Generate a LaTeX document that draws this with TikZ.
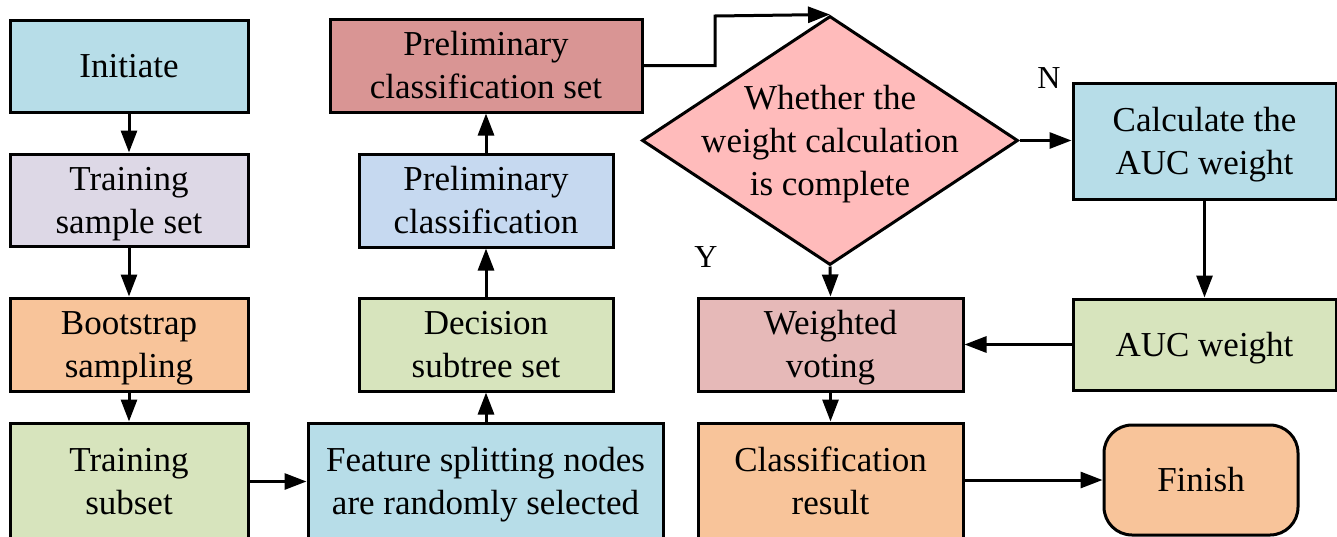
\documentclass[tikz,border=0pt]{standalone}
\usepackage{fontspec}
\newfontfamily\boxfont{Liberation Serif}
\usetikzlibrary{arrows.meta,shapes.geometric}
\definecolor{cblue}{HTML}{B7DDE8}
\definecolor{clav}{HTML}{DDD8E6}
\definecolor{corange}{HTML}{F8C49A}
\definecolor{cgreen}{HTML}{D7E4BD}
\definecolor{crose}{HTML}{D99594}
\definecolor{csky}{HTML}{C6D9F0}
\definecolor{cpink}{HTML}{FFBBBB}
\definecolor{cmauve}{HTML}{E6B9B8}
% centred stack of lines, set a little below the geometric centre
\newcommand\boxlines[1]{\raisebox{-3pt}[\height][\depth]{\begin{tabular}{@{}c@{}}#1\end{tabular}}}
\tikzset{
  box/.style={draw=black, line width=3pt, rectangle, inner sep=0pt,
    font=\boxfont\fontsize{35}{43}\selectfont},
  decision/.style={draw=black, line width=3pt, diamond, inner sep=0pt, fill=cpink,
    minimum width=376pt, minimum height=249pt},
  txt/.style={inner sep=0pt, font=\boxfont\fontsize{35}{43}\selectfont},
  yn/.style={inner sep=0pt, font=\boxfont\fontsize{32}{38}\selectfont},
  arr/.style={line width=3pt, -{Triangle[length=22pt,width=16pt]}},
}
\begin{document}
\begin{tikzpicture}[x=1pt,y=-1pt]
\useasboundingbox (0,0) rectangle (1337,536);

% left column
\node[box, fill=cblue,   minimum width=238pt, minimum height=92pt]  (init) at (129,66)    {\boxlines{Initiate}};
\node[box, fill=clav,    minimum width=238pt, minimum height=92pt]  (tss)  at (129,200)   {\boxlines{Training\\sample set}};
\node[box, fill=corange, minimum width=238pt, minimum height=93pt]  (boot) at (129,344.5) {\boxlines{Bootstrap\\sampling}};
\node[box, fill=cgreen,  minimum width=238pt, minimum height=117pt] (tsub) at (129,481.5) {\boxlines{Training\\subset}};

% middle column
\node[box, fill=cblue,   minimum width=355pt, minimum height=117pt] (feat) at (485.5,481.5) {\boxlines{Feature splitting nodes\\are randomly selected}};
\node[box, fill=cgreen,  minimum width=254pt, minimum height=93pt]  (dst)  at (486,344.5)   {\boxlines{Decision\\subtree set}};
\node[box, fill=csky,    minimum width=254pt, minimum height=93pt]  (pc)   at (486,200.5)   {\boxlines{Preliminary\\classification}};
\node[box, fill=crose,   minimum width=312pt, minimum height=93pt]  (pcs)  at (486,65.5)    {\boxlines{Preliminary\\classification set}};

% decision and right part
\node[decision] (dec) at (830,140.5) {};
\node[txt] (dect) at (dec.center) {\boxlines{Whether the\\weight calculation\\is complete}};
\node[box, fill=cblue,   minimum width=263pt, minimum height=116pt] (calc) at (1204.5,141)   {\boxlines{Calculate the\\AUC weight}};
\node[box, fill=cgreen,  minimum width=263pt, minimum height=91pt]  (auc)  at (1204.5,344.5) {\boxlines{AUC weight}};
\node[box, fill=cmauve,  minimum width=265pt, minimum height=93pt]  (wv)   at (830.5,344.5)  {\boxlines{Weighted\\voting}};
\node[box, fill=corange, minimum width=265pt, minimum height=117pt] (cr)   at (830.5,481.5)  {\boxlines{Classification\\result}};
\node[box, fill=corange, minimum width=194pt, minimum height=110pt, rounded corners=28pt] (fin) at (1201,480) {\boxlines{Finish}};

\node[yn] (lblN) at (1049,78)  {N};
\node[yn] (lblY) at (706,257)  {Y};

\coordinate (bend) at (715,16);

% connectors
\draw[arr] (init) -- (tss);
\draw[arr] (tss) -- (boot);
\draw[arr] (boot) -- (tsub);
\draw[arr] (tsub.east |- feat.west) -- (feat.west);
\draw[arr] (feat.north -| dst.south) -- (dst.south);
\draw[arr] (dst) -- (pc);
\draw[arr] (pc) -- (pcs);
\draw[arr] (pcs.east) -| (bend) -- (dec.north);
\draw[arr] (dec.east) -- (calc.west |- dec.east);
\draw[arr] (calc) -- (auc);
\draw[arr] (auc.west) -- (wv.east);
\draw[arr] (dec.south) -- (wv.north);
\draw[arr] (wv) -- (cr);
\draw[arr] (cr.east |- fin.west) -- (fin.west);
\end{tikzpicture}
\end{document}
